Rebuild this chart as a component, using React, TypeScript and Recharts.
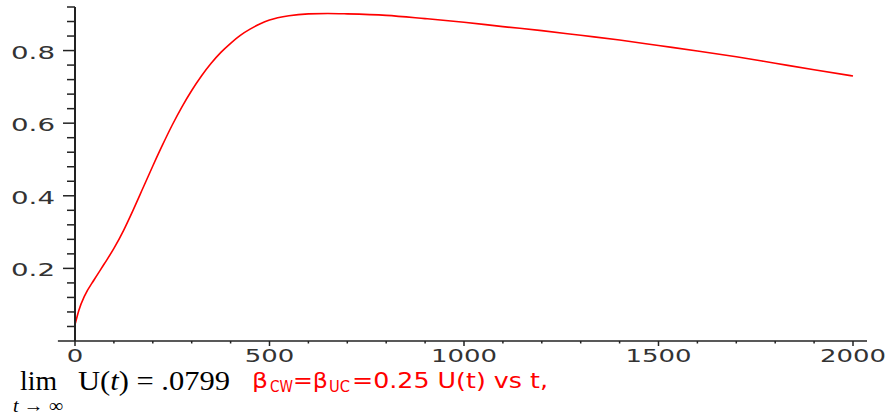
import { Line, LineChart, ReferenceLine, XAxis, YAxis } from "recharts";

const tValues = [
  0, 10, 25, 50, 75, 100, 125, 150, 175, 200, 225, 250, 275, 300, 325, 350, 375, 400, 425, 450, 475, 500, 550, 600,
  650, 700, 800, 900, 1000, 1100, 1200, 1300, 1400, 1500, 1600, 1700, 1800, 1900, 2000,
];
const uValues = [
  0.045, 0.085, 0.125, 0.17, 0.212, 0.255, 0.305, 0.362, 0.422, 0.482, 0.54, 0.595, 0.645, 0.69, 0.73, 0.765, 0.795,
  0.82, 0.842, 0.859, 0.873, 0.884, 0.896, 0.901, 0.902, 0.901, 0.897, 0.888, 0.878, 0.866, 0.855, 0.842, 0.829,
  0.814, 0.799, 0.783, 0.765, 0.747, 0.73,
];

const xTicks = [0, 100, 200, 300, 400, 500, 600, 700, 800, 900, 1000, 1100, 1200, 1300, 1400, 1500, 1600, 1700, 1800, 1900, 2000];
const xMajor = [0, 500, 1000, 1500, 2000];
const yTicks = [
  0.04, 0.08, 0.12, 0.16, 0.2, 0.24, 0.28, 0.32, 0.36, 0.4, 0.44, 0.48, 0.52, 0.56, 0.6, 0.64, 0.68, 0.72, 0.76, 0.8,
  0.84, 0.88, 0.92,
];
const yMajor = [0.2, 0.4, 0.6, 0.8];

const data = tValues.map((t, i) => ({ t, u: uValues[i] }));

const AXIS = "#222";
const TICK_FONT = "'DejaVu Sans', sans-serif";

const isMajor = (list: number[], v: number) => list.some((m) => Math.abs(m - v) < 1e-6);

function YTick({ x, y, payload }: any) {
  const major = isMajor(yMajor, payload.value);
  return (
    <g>
      <line x1={x - (major ? 12 : 8)} x2={x} y1={y} y2={y} stroke={AXIS} strokeWidth={1.5} />
      {major && (
        <text
          x={55}
          y={y + 8}
          textAnchor="end"
          fontFamily={TICK_FONT}
          fontSize={18}
          fill="#333"
          textLength={44}
          lengthAdjust="spacingAndGlyphs"
        >
          {payload.value.toFixed(1)}
        </text>
      )}
    </g>
  );
}

function XTick({ x, y, payload }: any) {
  const major = isMajor(xMajor, payload.value);
  const label = String(payload.value);
  return (
    <g>
      <line x1={x} x2={x} y1={y} y2={y + (major ? 5 : 2.5)} stroke={AXIS} strokeWidth={1.5} />
      {major && (
        <text
          x={x}
          y={y + 21}
          textAnchor="middle"
          fontFamily={TICK_FONT}
          fontSize={17}
          fill="#333"
          textLength={label.length * 16.5}
          lengthAdjust="spacingAndGlyphs"
        >
          {label}
        </text>
      )}
    </g>
  );
}

function Caption() {
  const red = "#ff0000";
  const sans = "'DejaVu Sans', sans-serif";
  const serif = "'Liberation Serif', 'Times New Roman', serif";
  return (
    <svg width={886} height={419} style={{ position: "absolute", left: 0, top: 0, pointerEvents: "none" }}>
      <text x={20} y={390} fontFamily={serif} fontSize={28} fill="#000" textLength={37} lengthAdjust="spacingAndGlyphs">
        lim
      </text>
      <text x={78} y={390} fontFamily={serif} fontSize={28} fill="#000" textLength={152} lengthAdjust="spacingAndGlyphs">
        U(<tspan fontStyle="italic">t</tspan>) = .0799
      </text>
      <text x={13} y={412} fontFamily={serif} fontSize={19} fill="#000" textLength={50} lengthAdjust="spacingAndGlyphs">
        <tspan fontStyle="italic">t</tspan> → ∞
      </text>

      <text x={252} y={388} fontFamily={sans} fontSize={22} fill={red} textLength={16} lengthAdjust="spacingAndGlyphs">
        β
      </text>
      <text x={270} y={392} fontFamily={sans} fontSize={15} fill={red} textLength={23} lengthAdjust="spacingAndGlyphs">
        CW
      </text>
      <text x={293} y={388} fontFamily={sans} fontSize={22} fill={red} textLength={35} lengthAdjust="spacingAndGlyphs">
        =β
      </text>
      <text x={329} y={392} fontFamily={sans} fontSize={15} fill={red} textLength={21} lengthAdjust="spacingAndGlyphs">
        UC
      </text>
      <text x={352} y={388} fontFamily={sans} fontSize={22} fill={red} textLength={196} lengthAdjust="spacingAndGlyphs">
        =0.25 U(t) vs t,
      </text>
    </svg>
  );
}

export default function App() {
  return (
    <div style={{ position: "absolute", left: 0, top: 0, width: 886, height: 419, background: "#fff" }}>
      <LineChart width={886} height={419} data={data} margin={{ top: 7, right: 19, left: 0, bottom: 0 }}>
        <XAxis
          type="number"
          dataKey="t"
          domain={[0, 2036]}
          allowDataOverflow
          ticks={xTicks}
          interval={0}
          height={78}
          axisLine={{ stroke: AXIS, strokeWidth: 1.5 }}
          tickLine={false}
          tickSize={0}
          tickMargin={0}
          tick={<XTick />}
        />
        <YAxis
          type="number"
          domain={[0, 0.92]}
          allowDataOverflow
          ticks={yTicks}
          interval={0}
          width={75}
          axisLine={{ stroke: AXIS, strokeWidth: 2 }}
          tickLine={false}
          tickSize={0}
          tickMargin={0}
          tick={<YTick />}
        />
        <ReferenceLine
          segment={[
            { x: -44, y: 0 },
            { x: 0, y: 0 },
          ]}
          ifOverflow="visible"
          stroke={AXIS}
          strokeWidth={1.5}
        />
        <Line
          type="monotone"
          dataKey="u"
          stroke="#ff0000"
          strokeWidth={1.6}
          dot={false}
          isAnimationActive={false}
        />
      </LineChart>
      <Caption />
    </div>
  );
}
